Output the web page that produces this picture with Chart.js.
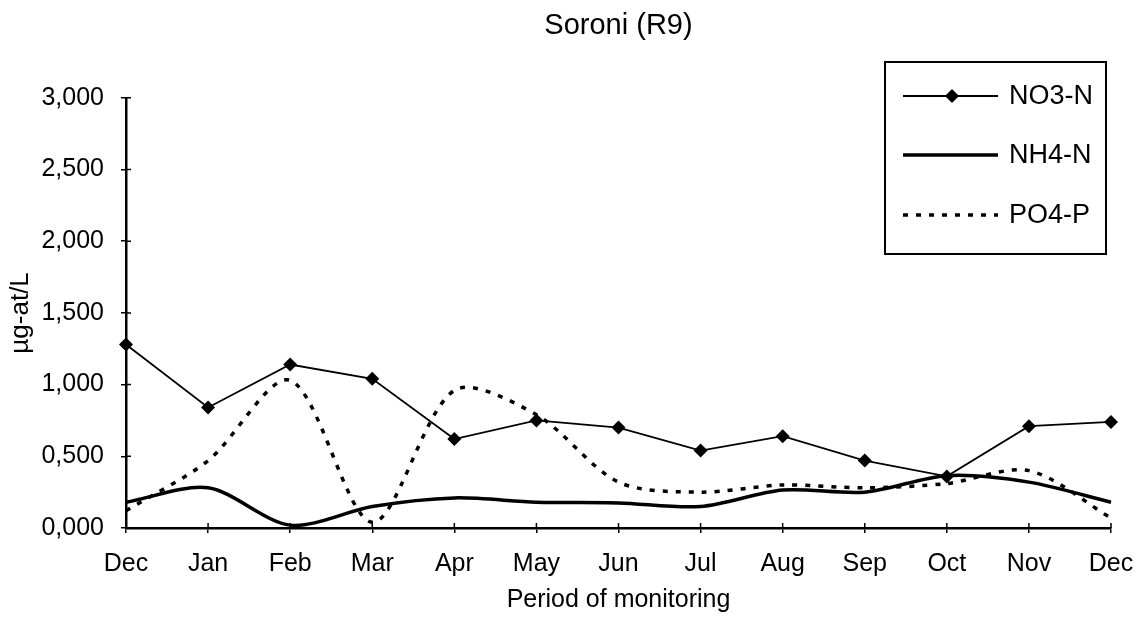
<!DOCTYPE html>
<html>
<head>
<meta charset="utf-8">
<script src="https://cdn.jsdelivr.net/npm/chart.js@4.4.1/dist/chart.umd.min.js"></script>
<style>
  html, body { margin: 0; padding: 0; background: #fff; }
  #wrap { width: 1140px; height: 623px; position: relative; }
</style>
</head>
<body>
<div id="wrap"><canvas id="c" width="1140" height="623"></canvas></div>
<script>
const chartTitle = 'Soroni (R9)';
const xTitle = 'Period of monitoring';
const yTitle = 'µg-at/L';
const months = ['Dec', 'Jan', 'Feb', 'Mar', 'Apr', 'May', 'Jun', 'Jul', 'Aug', 'Sep', 'Oct', 'Nov', 'Dec'];
const yTickLabels = ['0,000', '0,500', '1,000', '1,500', '2,000', '2,500', '3,000'];
const no3 = [1.28, 0.84, 1.14, 1.04, 0.62, 0.75, 0.70, 0.54, 0.64, 0.47, 0.36, 0.71, 0.74];
const nh4 = [0.18, 0.28, 0.02, 0.15, 0.21, 0.18, 0.175, 0.15, 0.265, 0.25, 0.365, 0.32, 0.18];
const po4 = [0.12, 0.47, 1.03, 0.04, 0.96, 0.79, 0.32, 0.25, 0.30, 0.28, 0.31, 0.40, 0.07];
const seriesNames = ['NO3-N', 'NH4-N', 'PO4-P'];

const FONT = '"Liberation Sans", Arial, sans-serif';

const innerTicks = {
  id: 'innerTicks',
  afterDraw(chart) {
    const ctx = chart.ctx;
    const xs = chart.scales.x, ys = chart.scales.y;
    const ca = chart.chartArea;
    ctx.save();
    ctx.strokeStyle = '#000';
    ctx.lineWidth = 1.5;
    ctx.beginPath();
    ys.ticks.forEach((t, i) => {
      const y = ys.getPixelForTick(i);
      ctx.moveTo(ca.left, y); ctx.lineTo(ca.left + 5, y);
    });
    xs.ticks.forEach((t, i) => {
      const x = xs.getPixelForTick(i);
      ctx.moveTo(x, ca.bottom); ctx.lineTo(x, ca.bottom - 5);
    });
    ctx.stroke();
    ctx.restore();
  }
};

const boxLegend = {
  id: 'boxLegend',
  afterDraw(chart) {
    const ctx = chart.ctx;
    const left = 885, right = 1106, top = 62, bottom = 254;
    ctx.save();
    ctx.strokeStyle = '#000';
    ctx.lineWidth = 2;
    ctx.strokeRect(left, top, right - left, bottom - top);
    const rows = [96, 155, 215];
    chart.data.datasets.forEach((ds, i) => {
      const y = rows[i];
      ctx.save();
      ctx.strokeStyle = ds.borderColor;
      ctx.lineWidth = ds.borderWidth;
      ctx.setLineDash(ds.borderDash || []);
      ctx.beginPath();
      ctx.moveTo(left + 18, y);
      ctx.lineTo(left + 113, y);
      ctx.stroke();
      ctx.restore();
      if (ds.pointRadius > 0) {
        const cx = left + 67, r = ds.pointRadius;
        ctx.fillStyle = '#000';
        ctx.beginPath();
        ctx.moveTo(cx, y - r); ctx.lineTo(cx + r, y); ctx.lineTo(cx, y + r); ctx.lineTo(cx - r, y);
        ctx.closePath();
        ctx.fill();
      }
      ctx.fillStyle = '#000';
      ctx.font = '27px ' + FONT;
      ctx.textBaseline = 'middle';
      ctx.textAlign = 'left';
      ctx.fillText(ds.label, left + 124, y + 1);
    });
    ctx.restore();
  }
};

new Chart(document.getElementById('c'), {
  type: 'line',
  data: {
    labels: months,
    datasets: [
      { label: seriesNames[0], data: no3, borderColor: '#000', backgroundColor: '#000', borderWidth: 1.8,
        pointStyle: 'rectRot', pointRadius: 7, pointBackgroundColor: '#000', pointBorderWidth: 0, tension: 0 },
      { label: seriesNames[1], data: nh4, borderColor: '#000', borderWidth: 3.5, pointRadius: 0, tension: 0.3 },
      { label: seriesNames[2], data: po4, borderColor: '#000', borderWidth: 3.5, borderDash: [5, 8], pointRadius: 0, tension: 0.3 }
    ]
  },
  options: {
    responsive: false,
    animation: false,
    layout: { padding: { left: 0, right: 29, top: 0, bottom: 0 } },
    plugins: {
      legend: { display: false },
      tooltip: { enabled: false },
      title: {
        display: true, text: chartTitle, color: '#000', fullSize: false,
        font: { family: FONT, size: 29, weight: 'normal' },
        padding: { top: 9, bottom: 54 }
      }
    },
    scales: {
      x: {
        type: 'category',
        offset: false,
        grid: { display: true, drawOnChartArea: false, drawTicks: true, tickLength: 5, color: '#000', lineWidth: 1.5 },
        border: { display: true, color: '#000', width: 2.5 },
        ticks: { color: '#000', font: { family: FONT, size: 25 }, padding: 16, maxRotation: 0, autoSkip: false },
        title: { display: true, text: xTitle, color: '#000', font: { family: FONT, size: 25 }, padding: { top: 0, bottom: 8 } },
        afterFit(s) { s.height = 95; s.paddingLeft = 0; s.paddingRight = 0; }
      },
      y: {
        min: 0, max: 3,
        grid: { display: true, drawOnChartArea: false, drawTicks: true, tickLength: 5, color: '#000', lineWidth: 1.5 },
        border: { display: true, color: '#000', width: 2.5 },
        ticks: { stepSize: 0.5, color: '#000', font: { family: FONT, size: 25 }, padding: 17,
          callback: (v, i) => yTickLabels[i] },
        title: { display: true, text: yTitle, color: '#000', font: { family: FONT, size: 26 }, padding: { top: 5, bottom: 0 } },
        afterFit(s) { s.width = 126; s.paddingTop = 0; s.paddingBottom = 0; }
      }
    }
  },
  plugins: [innerTicks, boxLegend]
});
</script>
</body>
</html>
